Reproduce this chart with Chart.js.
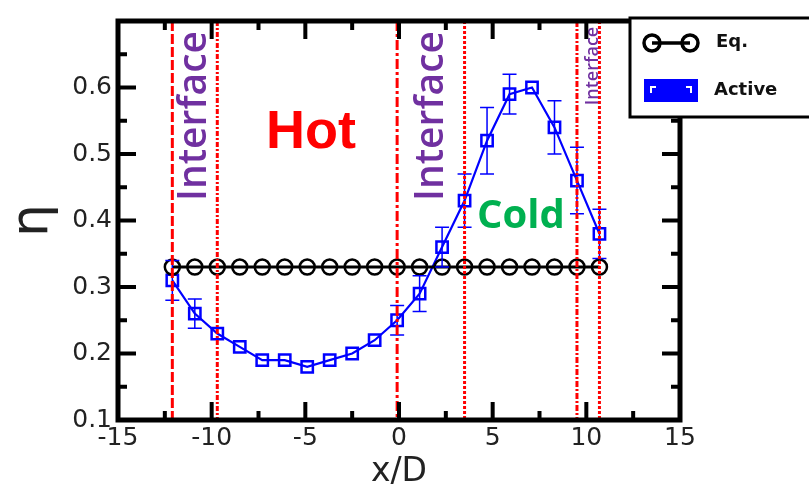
<!DOCTYPE html>
<html>
<head>
<meta charset="utf-8">
<script src="https://cdn.jsdelivr.net/npm/chart.js@4.4.0/dist/chart.umd.min.js"></script>
<style>
  html, body { margin: 0; padding: 0; background: #fff; }
  #wrap { width: 809px; height: 489px; }
</style>
</head>
<body>
<div id="wrap"><canvas id="etaChart" width="809" height="489"></canvas></div>
<script>
// ── Data ──────────────────────────────────────────────────
const xPos       = [-12.1, -10.9, -9.7, -8.5, -7.3, -6.1, -4.9, -3.7, -2.5, -1.3,
                    -0.1, 1.1, 2.3, 3.5, 4.7, 5.9, 7.1, 8.3, 9.5, 10.7];
const eqVals     = [0.33, 0.33, 0.33, 0.33, 0.33, 0.33, 0.33, 0.33, 0.33, 0.33,
                    0.33, 0.33, 0.33, 0.33, 0.33, 0.33, 0.33, 0.33, 0.33, 0.33];
const activeVals = [0.31, 0.26, 0.23, 0.21, 0.19, 0.19, 0.18, 0.19, 0.20, 0.22,
                    0.25, 0.29, 0.36, 0.43, 0.52, 0.59, 0.60, 0.54, 0.46, 0.38];
const activeErr  = [0.03, 0.022, 0, 0, 0, 0, 0, 0, 0, 0,
                    0.022, 0.027, 0.03, 0.04, 0.05, 0.03, 0, 0.04, 0.05, 0.037];
const interfaceX = [-12.1, -9.7, -0.1, 3.5, 9.5, 10.7];
const xTicks     = [-15, -10, -5, 0, 5, 10, 15];
const yTicks     = [0.1, 0.2, 0.3, 0.4, 0.5, 0.6];

const RED = '#ff0000';
const BLUE = '#0000ff';
const PURPLE = '#7030a0';
const GREEN = '#00b050';

// ── Error bars on the Active series ───────────────────────
const errorBars = {
  id: 'errorBars',
  afterDatasetsDraw(chart) {
    const { ctx, scales: { x, y } } = chart;
    ctx.save();
    ctx.strokeStyle = BLUE;
    ctx.lineWidth = 1.5;
    xPos.forEach((xv, i) => {
      const e = activeErr[i];
      if (!e) return;
      const px = x.getPixelForValue(xv);
      const top = y.getPixelForValue(activeVals[i] + e);
      const bot = y.getPixelForValue(activeVals[i] - e);
      ctx.beginPath();
      ctx.moveTo(px, top); ctx.lineTo(px, bot);
      ctx.moveTo(px - 7, top); ctx.lineTo(px + 7, top);
      ctx.moveTo(px - 7, bot); ctx.lineTo(px + 7, bot);
      ctx.stroke();
    });
    ctx.restore();
  }
};

// ── Interface lines, labels, frame, inner ticks, legend ──
const decorations = {
  id: 'decorations',
  afterDatasetsDraw(chart) {
    const { ctx, chartArea: a, scales: { x, y } } = chart;
    ctx.save();

    // red interface lines
    const dashes = [[10, 3], [5, 2, 2, 2], [10, 3, 3, 3], [3, 2], [6, 2, 2, 2], [3, 2]];
    ctx.strokeStyle = RED;
    ctx.lineWidth = 3;
    interfaceX.forEach((xv, i) => {
      const px = x.getPixelForValue(xv);
      ctx.setLineDash(dashes[i]);
      ctx.beginPath();
      ctx.moveTo(px, a.top); ctx.lineTo(px, a.bottom);
      ctx.stroke();
    });
    ctx.setLineDash([]);

    // region labels (vertical ones read bottom to top, baseline on the right)
    const vtext = (txt, bx, cy, font, color) => {
      ctx.save();
      ctx.translate(bx, cy);
      ctx.rotate(-Math.PI / 2);
      ctx.font = font;
      ctx.fillStyle = color;
      ctx.textAlign = 'center';
      ctx.textBaseline = 'alphabetic';
      ctx.fillText(txt, 0, 0);
      ctx.restore();
    };
    vtext('Interface', 206, 116, "600 39px 'Open Sans'", PURPLE);
    vtext('Interface', 443, 116, "600 39px 'Open Sans'", PURPLE);
    vtext('Interface', 598, 66, "600 18px 'Open Sans'", PURPLE);

    ctx.textAlign = 'center';
    ctx.textBaseline = 'alphabetic';
    ctx.fillStyle = RED;
    ctx.font = "bold 54px 'Liberation Sans'";
    ctx.fillText('Hot', 311, 148);
    ctx.fillStyle = GREEN;
    ctx.font = "bold 40px 'Open Sans'";
    ctx.fillText('Cold', 521, 228);

    // inner ticks on all four sides
    ctx.strokeStyle = '#000';
    ctx.lineWidth = 4;
    for (let v = -15; v <= 15; v += 2.5) {
      const px = x.getPixelForValue(v);
      const len = (v % 5 === 0) ? 18 : 9;
      ctx.beginPath();
      ctx.moveTo(px, a.bottom); ctx.lineTo(px, a.bottom - len);
      ctx.moveTo(px, a.top); ctx.lineTo(px, a.top + len);
      ctx.stroke();
    }
    for (let k = 2; k <= 14; k++) {
      const py = y.getPixelForValue(k * 0.05);
      const len = (k % 2 === 0) ? 18 : 9;
      ctx.beginPath();
      ctx.moveTo(a.left, py); ctx.lineTo(a.left + len, py);
      ctx.moveTo(a.right, py); ctx.lineTo(a.right - len, py);
      ctx.stroke();
    }

    // frame
    ctx.lineWidth = 5;
    ctx.strokeRect(a.left, a.top, a.right - a.left, a.bottom - a.top);

    // legend box
    ctx.fillStyle = '#fff';
    ctx.fillRect(630, 18, 185, 99);
    ctx.lineWidth = 3;
    ctx.strokeRect(630, 18, 185, 99);

    // Eq. symbol
    ctx.lineWidth = 3.5;
    ctx.beginPath();
    ctx.moveTo(652, 43); ctx.lineTo(690, 43);
    ctx.stroke();
    [652, 690].forEach(cx => {
      ctx.beginPath();
      ctx.arc(cx, 43, 8, 0, Math.PI * 2);
      ctx.stroke();
    });

    // Active symbol
    ctx.fillStyle = BLUE;
    ctx.fillRect(644, 79, 54, 23);
    ctx.fillStyle = '#fff';
    ctx.fillRect(650, 86, 6, 2);
    ctx.fillRect(650, 86, 2, 7);
    ctx.fillRect(686, 86, 6, 2);
    ctx.fillRect(690, 86, 2, 7);

    ctx.fillStyle = '#111';
    ctx.textAlign = 'left';
    ctx.textBaseline = 'middle';
    ctx.font = "bold 18px 'DejaVu Sans'";
    ctx.fillText('Eq.', 716, 42);
    ctx.fillText('Active', 714, 90);

    ctx.restore();
  }
};

const tickFont = { family: "'DejaVu Sans'", size: 25 };

new Chart(document.getElementById('etaChart'), {
  type: 'line',
  data: {
    labels: xPos,
    datasets: [
      {
        label: 'Eq.',
        data: xPos.map((xv, i) => ({ x: xv, y: eqVals[i] })),
        borderColor: '#000',
        borderWidth: 3,
        pointStyle: 'circle',
        pointRadius: 7.5,
        pointBorderWidth: 2.5,
        pointBorderColor: '#000',
        pointBackgroundColor: 'rgba(0,0,0,0)',
        tension: 0,
      },
      {
        label: 'Active',
        data: xPos.map((xv, i) => ({ x: xv, y: activeVals[i] })),
        borderColor: BLUE,
        borderWidth: 2.2,
        pointStyle: 'rect',
        pointRadius: 8,
        pointBorderWidth: 2.5,
        pointBorderColor: BLUE,
        pointBackgroundColor: 'rgba(0,0,0,0)',
        tension: 0,
      }
    ]
  },
  options: {
    responsive: false,
    animation: false,
    devicePixelRatio: 1,
    layout: { padding: { top: 11, right: 129, bottom: 0, left: 0 } },
    plugins: {
      legend: { display: false },
      tooltip: { enabled: false }
    },
    scales: {
      x: {
        type: 'linear',
        min: -15,
        max: 15,
        afterBuildTicks: (s) => { s.ticks = xTicks.map(v => ({ value: v })); },
        afterFit: (s) => { s.height = 69; },
        grid: { display: false, drawTicks: false },
        border: { display: false },
        ticks: {
          color: '#222',
          font: tickFont,
          padding: 3,
          maxRotation: 0,
          autoSkip: false,
          callback: (v) => String(v)
        },
        title: {
          display: true,
          text: 'x/D',
          color: '#222',
          font: { family: "'DejaVu Sans'", size: 33, lineHeight: 1 },
          padding: { top: 0, bottom: 0 }
        }
      },
      y: {
        min: 0.1,
        max: 0.7,
        afterBuildTicks: (s) => { s.ticks = yTicks.map(v => ({ value: v })); },
        afterFit: (s) => { s.width = 118; },
        grid: { display: false, drawTicks: false },
        border: { display: false },
        ticks: {
          color: '#222',
          font: tickFont,
          padding: 6,
          autoSkip: false,
          callback: (v) => v.toFixed(1)
        },
        title: {
          display: true,
          text: 'η',
          color: '#222',
          font: { family: "'DejaVu Sans'", size: 52, lineHeight: 1 },
          padding: { top: 7, bottom: 0 }
        }
      }
    }
  },
  plugins: [errorBars, decorations]
});
</script>
</body>
</html>
